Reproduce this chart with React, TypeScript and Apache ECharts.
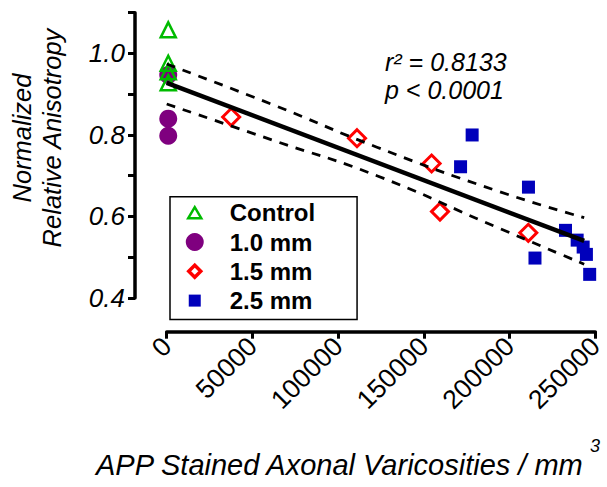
import React, { useEffect, useRef } from "react";
import * as echarts from "echarts";

const controlX = [900, 900, 900, 900];
const controlY = [1.058, 0.976, 0.955, 0.928];
const mm10X = [900, 900, 900];
const mm10Y = [0.947, 0.84, 0.798];
const mm15X = [37600, 111000, 154500, 159400, 210900];
const mm15Y = [0.844, 0.792, 0.73, 0.612, 0.56];
const mm25X = [178150, 171400, 211000, 232600, 239400, 242900, 244800, 214800, 246700];
const mm25Y = [0.8, 0.722, 0.672, 0.566, 0.542, 0.525, 0.507, 0.498, 0.458];

const fitX = [0, 243500];
const fitY = [0.928, 0.54];
const bandX = [0, 62700, 122600, 191200, 243500];
const upperY = [0.974, 0.873, 0.77, 0.665, 0.597];
const lowerY = [0.876, 0.786, 0.7, 0.576, 0.483];

const xTicks = [0, 50000, 100000, 150000, 200000, 250000];
const yLabels = ["0.4", "0.6", "0.8", "1.0"];

const zip = (xs: number[], ys: number[]) => xs.map((x, i) => [x, ys[i]]);

export default function App() {
  const ref = useRef<HTMLDivElement>(null);
  useEffect(() => {
    if (!ref.current) return;
    const chart = echarts.init(ref.current, undefined, { renderer: "svg" });
    const font = "Liberation Sans, Arial, Helvetica, sans-serif";
    chart.setOption({
      animation: false,
      backgroundColor: "#ffffff",
      textStyle: { fontFamily: font },
      grid: { left: 166.7, right: 8.7, top: 12.7, bottom: 189 },
      xAxis: {
        type: "value",
        min: xTicks[0],
        max: xTicks[xTicks.length - 1],
        interval: 50000,
        offset: 33.7,
        splitLine: { show: false },
        axisLine: { show: true, onZero: false, lineStyle: { color: "#000", width: 3.5 } },
        axisTick: { show: true, length: 7, lineStyle: { color: "#000", width: 3 } },
        axisLabel: {
          rotate: 45,
          margin: 10,
          color: "#000",
          fontSize: 26.5,
          fontFamily: font,
          formatter: (v: number) => String(v),
        },
      },
      yAxis: {
        type: "value",
        min: 0.4,
        max: 1.1,
        interval: 0.1,
        offset: 31.7,
        splitLine: { show: false },
        axisLine: { show: true, onZero: false, lineStyle: { color: "#000", width: 3.5 } },
        axisTick: { show: true, length: 7, lineStyle: { color: "#000", width: 3 } },
        axisLabel: {
          margin: 10,
          color: "#000",
          fontSize: 26,
          fontStyle: "italic",
          fontFamily: font,
          formatter: (v: number) => {
            const s = v.toFixed(1);
            return yLabels.includes(s) ? s : "";
          },
        },
      },
      legend: {
        show: true,
        orient: "vertical",
        left: 170,
        top: 196.7,
        padding: [4, 42, 7, 13],
        itemGap: 5.3,
        itemWidth: 20,
        itemHeight: 18,
        borderColor: "#000",
        borderWidth: 1.5,
        backgroundColor: "#fff",
        data: [
          {
            name: "Control",
            icon: "path://M0,0M20,18M3.5,14.5L10,3.5L16.5,14.5Z",
            itemStyle: { borderWidth: 2.5, borderColor: "#00BB00", color: "rgba(255,255,255,0)" },
          },
          { name: "1.0 mm", icon: "circle" },
          {
            name: "1.5 mm",
            icon: "path://M0,0M20,18M10,3L16,9L10,15L4,9Z",
            itemStyle: { borderWidth: 3.5, borderColor: "#FF0000", color: "#ffffff" },
          },
          { name: "2.5 mm", icon: "path://M0,0M20,18M4,3L16,3L16,15L4,15Z" },
        ],
        textStyle: {
          fontSize: 24,
          fontWeight: "bold",
          color: "#000",
          fontFamily: font,
          lineHeight: 24,
          padding: [0, 0, 0, 20],
        },
      },
      series: [
        {
          name: "Control",
          type: "scatter",
          symbol: "triangle",
          symbolSize: 15,
          clip: false,
          itemStyle: { color: "rgba(255,255,255,0)", borderColor: "#00BB00", borderWidth: 2.5, opacity: 1 },
          data: zip(controlX, controlY),
          z: 3,
        },
        {
          name: "1.0 mm",
          type: "scatter",
          symbol: "circle",
          symbolSize: 18,
          clip: false,
          itemStyle: { color: "#7F007F", opacity: 1 },
          data: zip(mm10X, mm10Y),
          z: 2,
        },
        {
          name: "1.5 mm",
          type: "scatter",
          symbol: "diamond",
          symbolSize: 17,
          clip: false,
          itemStyle: { color: "#ffffff", borderColor: "#FF0000", borderWidth: 3, opacity: 1 },
          data: zip(mm15X, mm15Y),
          z: 2,
        },
        {
          name: "2.5 mm",
          type: "scatter",
          symbol: "rect",
          symbolSize: 13,
          clip: false,
          itemStyle: { color: "#0000BB", opacity: 1 },
          data: zip(mm25X, mm25Y),
          z: 2,
        },
        {
          name: "fit",
          type: "line",
          symbol: "none",
          clip: false,
          lineStyle: { color: "#000", width: 4.5 },
          data: zip(fitX, fitY),
          z: 4,
        },
        {
          name: "upper",
          type: "line",
          symbol: "none",
          smooth: true,
          clip: false,
          lineStyle: { color: "#000", width: 2.8, type: [9, 8] },
          data: zip(bandX, upperY),
          z: 4,
        },
        {
          name: "lower",
          type: "line",
          symbol: "none",
          smooth: true,
          clip: false,
          lineStyle: { color: "#000", width: 2.8, type: [9, 8] },
          data: zip(bandX, lowerY),
          z: 4,
        },
      ],
      graphic: [
        {
          type: "text",
          x: 36.7,
          y: 138,
          rotation: Math.PI / 2,
          style: {
            text: "Normalized\nRelative Anisotropy",
            fontSize: 25.5,
            fontStyle: "italic",
            fontFamily: font,
            fill: "#000",
            align: "center",
            verticalAlign: "middle",
            lineHeight: 30,
          },
        },
        {
          type: "text",
          x: 96,
          y: 465,
          style: {
            text: "APP Stained Axonal Varicosities / mm",
            fontSize: 29,
            fontStyle: "italic",
            fontFamily: font,
            fill: "#000",
            align: "left",
            verticalAlign: "middle",
          },
        },
        {
          type: "text",
          x: 590,
          y: 446,
          style: {
            text: "3",
            fontSize: 18,
            fontStyle: "italic",
            fontFamily: font,
            fill: "#000",
            align: "left",
            verticalAlign: "middle",
          },
        },
        {
          type: "text",
          x: 385,
          y: 62,
          style: {
            text: "r² = 0.8133",
            fontSize: 25,
            fontStyle: "italic",
            fontFamily: font,
            fill: "#000",
            align: "left",
            verticalAlign: "middle",
          },
        },
        {
          type: "text",
          x: 385,
          y: 89.6,
          style: {
            text: "p < 0.0001",
            fontSize: 25,
            fontStyle: "italic",
            fontFamily: font,
            fill: "#000",
            align: "left",
            verticalAlign: "middle",
          },
        },
      ],
    });
    return () => chart.dispose();
  }, []);
  return (
    <div
      ref={ref}
      style={{ position: "absolute", left: 0, top: 0, width: 607, height: 487 }}
    />
  );
}
